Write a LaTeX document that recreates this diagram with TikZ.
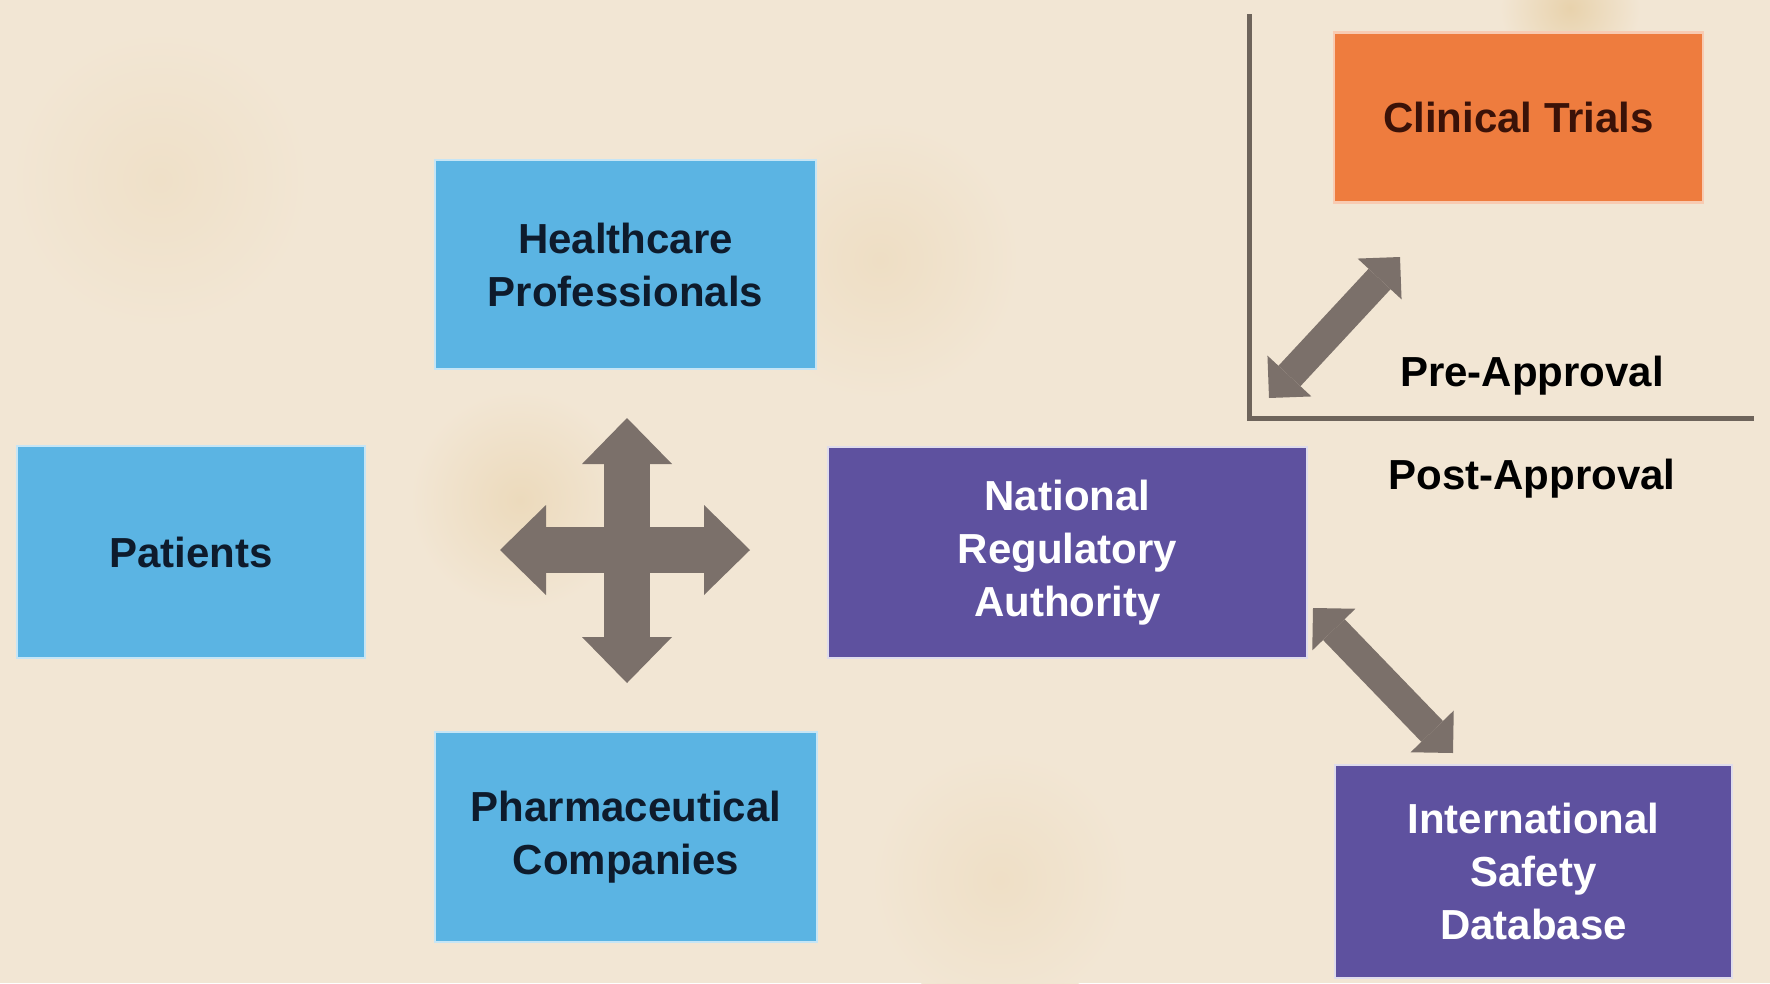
\documentclass[tikz,border=0pt]{standalone}
\usepackage{fontspec}
\setmainfont{Liberation Sans}
\usetikzlibrary{arrows.meta}
\definecolor{paper}{HTML}{F2E6D4}
\definecolor{stain}{HTML}{E8D2AC}
\definecolor{skyblue}{HTML}{5BB4E3}
\definecolor{regviolet}{HTML}{5E519F}
\definecolor{trialorange}{HTML}{EE7C3E}
\definecolor{arrowgray}{HTML}{7B706A}
\definecolor{rulegray}{HTML}{6E645B}
\definecolor{inknavy}{HTML}{0E1B2C}
\definecolor{inkbrown}{HTML}{3A1208}
\newcommand*{\boxfont}{\fontsize{42}{53}\selectfont\bfseries}
\newcommand*{\pw    }{1770}
\newcommand*{\ph    }{983}
\newcommand*{\shaft }{46pt}
\newcommand*{\thin  }{30pt}

\begin{document}
\begin{tikzpicture}[x=1pt, y=-1pt, font=\boxfont,
    box/.style     = {rectangle, align=center, inner sep=0pt, line width=2.5pt},
    bluebox/.style = {box, fill=skyblue, draw=skyblue!35!white, text=inknavy},
    regbox/.style  = {box, fill=regviolet, draw=regviolet!20!white, text=white},
    trialbox/.style= {box, fill=trialorange, draw=trialorange!40!white, text=inkbrown},
    blk/.style     = {draw=arrowgray, line width=\shaft, -{Triangle[length=46pt, width=90pt, line width=0pt]}},
    dblk/.style    = {draw=arrowgray, line width=\thin, {Triangle[length=30pt, width=60pt, line width=0pt]}-{Triangle[length=30pt, width=60pt, line width=0pt]}},
    rule/.style    = {draw=rulegray, line width=5pt}]
    \useasboundingbox (0,0) rectangle (\pw,\ph);
    \fill [paper] (0,0) rectangle (\pw,\ph);
        \shade [inner color=stain!60!paper, outer color=paper] (520,500) circle [radius=110pt];
        \shade [inner color=stain, outer color=paper] (1570,8) circle [radius=70pt];
        \shade [inner color=stain!40!paper, outer color=paper] (880,260) circle [radius=140pt];
        \shade [inner color=stain!30!paper, outer color=paper] (160,180) circle [radius=150pt];
        \shade [inner color=stain!35!paper, outer color=paper] (1000,880) circle [radius=130pt];
    % boxes
    \node [bluebox, minimum width=381pt, minimum height=209pt] (hcp) at (625.5,264.5) {Healthcare\\Professionals};
    \node [bluebox, minimum width=348pt, minimum height=212pt] (pat) at (191,552)     {Patients};
    \node [bluebox, minimum width=382pt, minimum height=210pt] (pha) at (626,837)     {Pharmaceutical\\Companies};
    \node [regbox,  minimum width=479pt, minimum height=211pt] (nra) at (1067.5,552.5) {National\\Regulatory\\Authority};
    \node [regbox,  minimum width=397pt, minimum height=213pt] (isd) at (1533.5,871.5) {International\\Safety\\Database};
    \node [trialbox, minimum width=369pt, minimum height=170pt] (ctr) at (1518.5,117.5) {Clinical Trials};
    % approval split
    \draw [rule] (1249,14) -- (1249,418) -- (1754,418);
    \node [inner sep=0pt] (pre)  at (1532,376) {Pre-Approval};
    \node [inner sep=0pt] (post) at (1532,479) {Post-Approval};
    % arrows
    \coordinate (hub)  at (627,550);
    \coordinate (hubN) at (627,418);
    \coordinate (hubS) at (627,683);
    \coordinate (hubW) at (500,550);
    \coordinate (hubE) at (750,550);
    \draw [blk] (hub) -- (hubN);
    \draw [blk] (hub) -- (hubS);
    \draw [blk] (hub) -- (hubW);
    \draw [blk] (hub) -- (hubE);
    \coordinate (preLo)  at (1269,398);
    \coordinate (preHi)  at (1400,257);
    \coordinate (postHi) at (1313,608);
    \coordinate (postLo) at (1453,753);
    \draw [dblk] (preLo) -- (preHi);
    \draw [dblk] (postHi) -- (postLo);
\end{tikzpicture}
\end{document}
